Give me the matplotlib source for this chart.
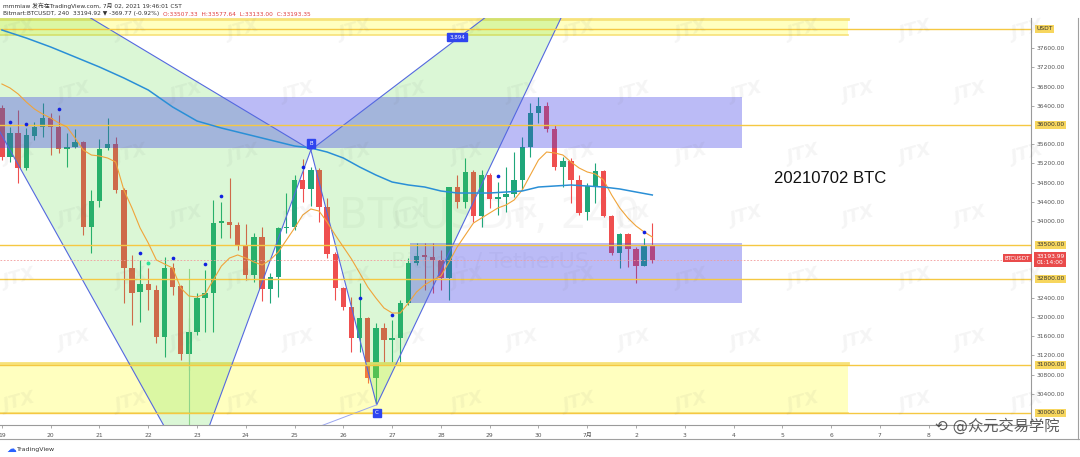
import matplotlib
matplotlib.use('Agg')
import matplotlib.pyplot as plt
from matplotlib.patches import Polygon, Rectangle
from matplotlib.lines import Line2D

plt.rcParams['font.family'] = ['DejaVu Sans', 'Noto Sans CJK SC']

# ---------------- data (4h candles, BTCUSDT) ----------------
opens = [36354, 35333, 35833, 35104, 35771, 35958, 36146, 35958, 35500, 35542,
         35646, 33875, 34417, 35521, 35604, 34646, 33021, 32521, 32688, 32563,
         31583, 33021, 32646, 31229, 31688, 32396, 32500, 33958, 33979, 33917,
         33479, 32875, 33667, 32583, 32833, 33854, 33875, 34854, 34667, 35062,
         34292, 33313, 32604, 32208, 31563, 31979, 30729, 31771, 31521, 31563,
         32292, 33125, 33292, 33250, 33188, 32813, 34708, 34396, 35021, 34104,
         34958, 34458, 34500, 34563, 34854, 35542, 36250, 36396, 35917, 35125,
         35250, 34854, 34188, 34729, 35042, 34104, 33333, 33729, 33417, 33063,
         33479]
highs = [36417, 35958, 36312, 35938, 36063, 36458, 36250, 36208, 35833, 35917,
         35660, 34646, 35708, 36146, 35750, 34688, 33292, 33188, 33021, 32667,
         33250, 33125, 32667, 31979, 32500, 32979, 34437, 34396, 34896, 33979,
         33937, 33750, 33875, 32917, 33875, 34583, 34958, 35292, 35125, 35104,
         34479, 33354, 32625, 32417, 32708, 32000, 31875, 31875, 31938, 32354,
         33229, 33542, 33542, 33542, 33396, 34708, 34958, 35313, 35062, 35062,
         35000, 34813, 35125, 35438, 35750, 36458, 36583, 36479, 36000, 35333,
         35313, 34958, 34792, 35208, 35062, 34125, 33750, 33750, 33458, 33646,
         33958]
lows = [35271, 35229, 34792, 35062, 35688, 35750, 35375, 35417, 35125, 35521,
        33708, 33333, 34292, 35479, 34583, 32292, 31833, 31896, 32146, 31458,
        31167, 32458, 31104, 30896, 31625, 31688, 31688, 33646, 33646, 33396,
        32771, 32729, 32333, 32292, 32417, 33750, 33812, 34396, 34313, 33979,
        33229, 32354, 32146, 31271, 31271, 30625, 30187, 31042, 31042, 31000,
        32250, 33083, 32562, 32500, 32562, 32354, 34271, 34271, 33979, 33875,
        34271, 34125, 34188, 34500, 34646, 35333, 36042, 35854, 35062, 34708,
        34375, 34125, 34021, 34375, 34083, 33292, 33021, 33042, 32708, 33063,
        33125]
closes = [35333, 35833, 35104, 35792, 35958, 36146, 35958, 35500, 35542, 35646,
          33875, 34417, 35500, 35604, 34646, 33021, 32500, 32688, 32563, 31583,
          33021, 32625, 31229, 31688, 32396, 32500, 33958, 34000, 33917, 33500,
          32875, 33667, 32583, 32833, 33854, 33875, 34854, 34667, 35062, 34292,
          33313, 32604, 32208, 31563, 31979, 30729, 31771, 31521, 31563, 32292,
          33125, 33271, 33250, 33188, 32813, 34708, 34396, 35021, 34104, 34958,
          34458, 34500, 34563, 34854, 35542, 36250, 36396, 35917, 35125, 35250,
          34854, 34167, 34729, 35042, 34104, 33333, 33729, 33417, 33063, 33479,
          33194]

ema_fast = [36854, 36771, 36646, 36479, 36333, 36229, 36146, 36042, 35958, 35729,
            35479, 35375, 35354, 35312, 35229, 34646, 34271, 33854, 33542, 33188,
            33104, 33021, 32604, 32437, 32417, 32479, 32771, 33062, 33229, 33292,
            33229, 33146, 33083, 33188, 33354, 33604, 33854, 34125, 34250, 34208,
            33979, 33708, 33458, 33208, 32917, 32625, 32396, 32187, 32083, 32083,
            32292, 32521, 32667, 32771, 32854, 33146, 33458, 33708, 33958, 34062,
            34167, 34271, 34333, 34437, 34646, 34958, 35271, 35437, 35417, 35375,
            35229, 35104, 35021, 34979, 34854, 34542, 34271, 34062, 33896, 33771,
            33667]

slow_idx = [0, 3, 6, 9, 12, 15, 18, 21, 24, 27, 30, 33, 36, 38, 40, 42, 44, 46,
            48, 50, 52, 54, 56, 58, 60, 62, 64, 66, 68, 70, 72, 74, 76, 78, 80]
slow_val = [37979, 37812, 37625, 37417, 37208, 36979, 36729, 36375, 36083, 35937,
            35812, 35687, 35562, 35521, 35437, 35312, 35125, 34958, 34812, 34750,
            34708, 34625, 34583, 34583, 34583, 34604, 34625, 34708, 34729, 34750,
            34729, 34708, 34667, 34604, 34542]

dot_idx = [1, 3, 7, 17, 21, 25, 27, 37, 44, 48, 61, 79]
dot_val = [36063, 36021, 36333, 33333, 33229, 33104, 34521, 35125, 32396, 32042, 34938, 33771]
cyan_idx = [18]
cyan_val = [33125]

levels = [38000, 36000, 33500, 32800, 31000, 30000]
last_price = 33193.99

# zones: (x_start, x_end, price_low, price_high)
blue_zones = [(-1, 91.0, 35521, 36583), (50.2, 91.0, 32292, 33542)]
yellow_zones = [(-1, 104.1, 37880, 38200), (-1, 104.1, 30000, 31050)]

# XABCD pattern points (bar index, price)
pt_X = (-17.6, 41125)
pt_A = (23.3, 28710)
pt_B = (38.0, 35479)
pt_C = (46.1, 30170)
pt_D = (74.1, 40125)
bd_ratio = "3.894"

day_idx = [0, 6, 12, 18, 24, 30, 36, 42, 48, 54, 60, 66, 72, 78, 84, 90, 96, 102, 108, 114]
day_lbl = ["19", "20", "21", "22", "23", "24", "25", "26", "27", "28", "29", "30",
           "7月", "2", "3", "4", "5", "6", "7", "8"]

# ---------------- figure ----------------
W, H = 1080, 457
fig = plt.figure(figsize=(W / 100, H / 100), dpi=100)
fig.patch.set_facecolor('white')
ax = fig.add_axes([0, (H - 425) / H, 1031 / W, (425 - 18) / H])
ax.set_facecolor('white')
ax.set_xlim(-0.234, 126.58)
ax.set_ylim(29750, 38229)

# watermarks (very faint, translucent grey)
for row, yy in enumerate(range(30, 440, 62)):
    off = 0 if row % 2 == 0 else 55
    for xx in range(20 + off, 1040, 112):
        fig.text(xx / W, 1 - yy / H, "JTX", fontsize=13, color='#707070', alpha=0.07,
                 fontweight='bold', style='italic', rotation=15,
                 ha='center', va='center', zorder=0)
ax.text(60, 34100, "BTCUSDT, 240", fontsize=30, color='#707070', alpha=0.06,
        ha='center', va='center', zorder=0.5)
ax.text(60, 33150, "Bitcoin / TetherUS", fontsize=16, color='#707070', alpha=0.06,
        ha='center', va='center', zorder=0.5)

# candles
up_c, dn_c = '#1fa67a', '#ef4f4f'
for i in range(len(opens)):
    o, h, l, c = opens[i], highs[i], lows[i], closes[i]
    col = up_c if c >= o else dn_c
    ax.vlines(i, l, h, color=col, lw=0.8, zorder=2)
    ax.bar(i, max(abs(c - o), 15), bottom=min(o, c), width=0.66, color=col,
           zorder=2, linewidth=0)

# yellow zones
for x0, x1, p0, p1 in yellow_zones:
    ax.add_patch(Rectangle((x0, p0), x1 - x0, p1 - p0, facecolor=(1, 1, 0),
                           alpha=0.25, edgecolor='none', zorder=3))
    ax.plot([x0, x1], [p1, p1], color='#f7e27a', lw=2.0, zorder=3)
    ax.plot([x0, x1], [p0, p0], color='#f7e27a', lw=1.2, zorder=3)

# green triangles
tri_col = (0.3, 0.85, 0.2)
for tri in [(pt_X, pt_A, pt_B), (pt_B, pt_C, pt_D)]:
    ax.add_patch(Polygon(tri, closed=True, facecolor=tri_col, alpha=0.2,
                         edgecolor='none', zorder=3))
    xs = [p[0] for p in tri] + [tri[0][0]]
    ys = [p[1] for p in tri] + [tri[0][1]]
    ax.plot(xs, ys, color='#5468e0', lw=0.8, zorder=4)
ax.plot([pt_A[0], pt_C[0]], [pt_A[1], pt_C[1]], color='#9aa6ef', lw=0.7, zorder=4)
ax.plot([23, 23], [29700, 33000], color='#8fd48a', lw=0.8, zorder=3)

# blue zones
for x0, x1, p0, p1 in blue_zones:
    ax.add_patch(Rectangle((x0, p0), x1 - x0, p1 - p0,
                           facecolor=(60 / 255, 60 / 255, 230 / 255), alpha=0.35,
                           edgecolor='none', zorder=3))

# horizontal levels
for lv in levels:
    ax.axhline(lv, color='#f5c842', lw=1.0, zorder=4)
ax.axhline(last_price, color='#f29a9a', lw=0.6, ls=(0, (2, 2)), zorder=4)

# moving averages
ax.plot(range(len(ema_fast)), ema_fast, color='#f0a43a', lw=0.8, zorder=5)
ax.plot(slow_idx, slow_val, color='#2a8fd6', lw=1.1, zorder=5)

# fractal dots
ax.scatter(dot_idx, dot_val, s=7, color='#1020e0', zorder=6, linewidths=0)
ax.scatter(cyan_idx, cyan_val, s=8, color='#2de39a', zorder=6, linewidths=0)

# pattern labels
def lab(x, y, t, dy=0):
    ax.text(x, y + dy, t, fontsize=4, color='white', ha='center', va='center',
            zorder=7, bbox=dict(boxstyle='square,pad=0.35', fc='#2f45f0', ec='#2f45f0'))
lab(pt_B[0], pt_B[1], "B", dy=130)
lab(pt_C[0], pt_C[1], "C", dy=-170)
lab(56.0, 37833, bd_ratio)

ax.text(95.0, 34880, "20210702 BTC", fontsize=12, color='#111111',
        family=['Liberation Sans', 'DejaVu Sans'], ha='left', va='center', zorder=7)

# axes styling
for s in ['top', 'left']:
    ax.spines[s].set_visible(False)
for s in ['right', 'bottom']:
    ax.spines[s].set_color('#9a9a9a')
    ax.spines[s].set_linewidth(0.8)
ax.yaxis.tick_right()
norm_ticks = [37600, 37200, 36800, 36400, 35600, 35200, 34800, 34400, 34000,
              32400, 32000, 31600, 31200, 30800, 30400]
ax.set_yticks(norm_ticks)
ax.set_yticklabels([f"{t:.2f}" for t in norm_ticks], fontsize=4.3, color='#555555')
ax.tick_params(axis='y', length=2, width=0.5, color='#888888', pad=2)
ax.set_xticks(day_idx)
ax.set_xticklabels(day_lbl, fontsize=4.3, color='#555555')
ax.tick_params(axis='x', length=2, width=0.5, color='#888888', pad=4)

# highlighted price labels
for lv in levels:
    t = "USDT" if lv == 38000 else f"{lv:.2f}"
    ax.text(1.005, lv, t, transform=ax.get_yaxis_transform(), fontsize=4.3,
            color='#333333', ha='left', va='center', zorder=8, clip_on=False,
            bbox=dict(boxstyle='square,pad=0.25', fc='#f7d65e', ec='none'))
ax.text(1.005, last_price, f"{last_price:.2f}\n01:14:00", transform=ax.get_yaxis_transform(),
        fontsize=4.3, color='white', ha='left', va='center', zorder=8, clip_on=False,
        linespacing=1.3, bbox=dict(boxstyle='square,pad=0.3', fc='#e94b4b', ec='none'))
ax.text(0.999, last_price + 30, "BTCUSDT", transform=ax.get_yaxis_transform(),
        fontsize=4, color='white', ha='right', va='center', zorder=8,
        bbox=dict(boxstyle='square,pad=0.3', fc='#e94b4b', ec='none'))

# header
fig.text(3 / W, 1 - 6 / H, "mmmiaw 发布在TradingView.com, 7月 02, 2021 19:46:01 CST",
         fontsize=4.2, color='#333333', ha='left', va='center')
h2 = fig.text(3 / W, 1 - 14 / H, "Bitmart:BTCUSDT, 240  33194.92 ▼ -369.77 (-0.92%)",
              fontsize=4.2, color='#333333', ha='left', va='center')
fig.canvas.draw()
bb = h2.get_window_extent()
fig.text(bb.x1 / W + 4 / W, 1 - 14 / H, "O:33507.33  H:33577.64  L:33133.00  C:33193.35",
         fontsize=4.2, color='#e04040', ha='left', va='center')

# frame
fig.add_artist(Line2D([0, 1], [1 - 439 / H, 1 - 439 / H], color='#a0a0a0', lw=0.8))
fig.add_artist(Line2D([1078 / W, 1078 / W], [1 - 439 / H, 1 - 18 / H], color='#a0a0a0', lw=0.8))

# footer
fig.text(6 / W, 1 - 449 / H, "☁", fontsize=7, color='#2962ff', ha='left', va='center')
fig.text(17 / W, 1 - 449 / H, "TradingView", fontsize=4.5, color='#333333',
         ha='left', va='center')
fig.text(935 / W, 1 - 426 / H, "⟲ @众元交易学院", fontsize=11, color='#333333',
         ha='left', va='center', alpha=0.8)

fig.savefig('out.png', dpi=100, facecolor='white')
